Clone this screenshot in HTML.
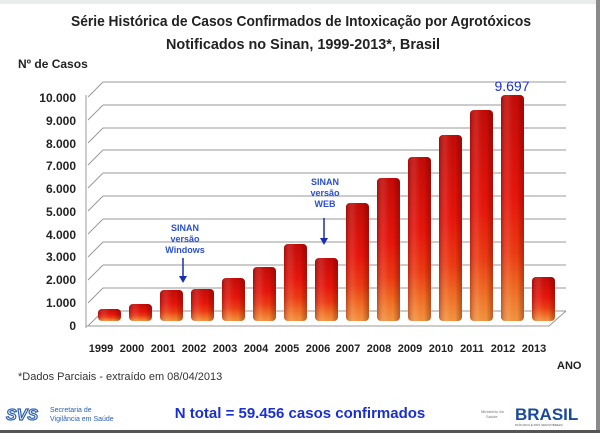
<!DOCTYPE html>
<html><head><meta charset="utf-8"><style>
body{margin:0;padding:0;background:#fff;}
svg{display:block;font-family:"Liberation Sans",sans-serif;}
</style></head><body>
<svg width="600" height="433" viewBox="0 0 600 433" xmlns="http://www.w3.org/2000/svg">
<defs>
<linearGradient id="v" x1="0" y1="0" x2="0" y2="1">
<stop offset="0" stop-color="#c40a06"/>
<stop offset="0.45" stop-color="#e8140a"/>
<stop offset="0.7" stop-color="#ee3a12"/>
<stop offset="0.85" stop-color="#f26a22"/>
<stop offset="1" stop-color="#f59540"/>
</linearGradient>
<linearGradient id="h" x1="0" y1="0" x2="1" y2="0">
<stop offset="0" stop-color="#600" stop-opacity="0.35"/>
<stop offset="0.35" stop-color="#fff" stop-opacity="0.08"/>
<stop offset="0.7" stop-color="#000" stop-opacity="0"/>
<stop offset="1" stop-color="#500" stop-opacity="0.35"/>
</linearGradient>
</defs>
<rect x="0" y="0" width="600" height="433" fill="#fff"/>
<rect x="0" y="0" width="600" height="4" fill="#e8ecec"/>
<rect x="596" y="0" width="4" height="433" fill="#8a8a8a"/>
<rect x="0" y="430" width="600" height="3" fill="#555"/>
<text x="301" y="26" font-size="15" font-weight="bold" text-anchor="middle" fill="#222" textLength="460" lengthAdjust="spacingAndGlyphs">Série Histórica de Casos Confirmados de Intoxicação por Agrotóxicos</text>
<text x="303" y="49" font-size="15" font-weight="bold" text-anchor="middle" fill="#222" textLength="274" lengthAdjust="spacingAndGlyphs">Notificados no Sinan, 1999-2013*, Brasil</text>
<text x="18" y="68" font-size="12" font-weight="bold" fill="#222">Nº de Casos</text>
<g stroke="#999" stroke-width="1" fill="none">
<line x1="103" y1="82" x2="566" y2="82"/><line x1="88" y1="97" x2="103" y2="82"/>
<line x1="103" y1="105" x2="566" y2="105"/><line x1="88" y1="120" x2="103" y2="105"/>
<line x1="103" y1="128" x2="566" y2="128"/><line x1="88" y1="143" x2="103" y2="128"/>
<line x1="103" y1="150" x2="566" y2="150"/><line x1="88" y1="165" x2="103" y2="150"/>
<line x1="103" y1="173" x2="566" y2="173"/><line x1="88" y1="188" x2="103" y2="173"/>
<line x1="103" y1="196" x2="566" y2="196"/><line x1="88" y1="211" x2="103" y2="196"/>
<line x1="103" y1="219" x2="566" y2="219"/><line x1="88" y1="234" x2="103" y2="219"/>
<line x1="103" y1="242" x2="566" y2="242"/><line x1="88" y1="257" x2="103" y2="242"/>
<line x1="103" y1="265" x2="566" y2="265"/><line x1="88" y1="280" x2="103" y2="265"/>
<line x1="103" y1="288" x2="566" y2="288"/><line x1="88" y1="303" x2="103" y2="288"/>
<line x1="103" y1="311" x2="566" y2="311"/><line x1="88" y1="326" x2="103" y2="311"/>
<line x1="86" y1="326" x2="549" y2="326"/><line x1="549" y1="326" x2="566" y2="311"/>
<line x1="86" y1="95" x2="86" y2="328"/>
</g>
<g font-size="12" font-weight="bold" fill="#222" text-anchor="end">
<text x="76" y="102">10.000</text><text x="76" y="125">9.000</text><text x="76" y="148">8.000</text>
<text x="76" y="170">7.000</text><text x="76" y="193">6.000</text><text x="76" y="216">5.000</text>
<text x="76" y="239">4.000</text><text x="76" y="261">3.000</text><text x="76" y="284">2.000</text>
<text x="76" y="307">1.000</text><text x="76" y="330">0</text>
</g>
<g>
<rect x="98" y="309" width="23" height="12" rx="4" fill="url(#v)"/>
<rect x="129" y="304" width="23" height="17" rx="4" fill="url(#v)"/>
<rect x="160" y="290" width="23" height="31" rx="4" fill="url(#v)"/>
<rect x="191" y="289" width="23" height="32" rx="4" fill="url(#v)"/>
<rect x="222" y="278" width="23" height="43" rx="4" fill="url(#v)"/>
<rect x="253" y="267" width="23" height="54" rx="4" fill="url(#v)"/>
<rect x="284" y="244" width="23" height="77" rx="4" fill="url(#v)"/>
<rect x="315" y="258" width="23" height="63" rx="4" fill="url(#v)"/>
<rect x="346" y="203" width="23" height="118" rx="4" fill="url(#v)"/>
<rect x="377" y="178" width="23" height="143" rx="4" fill="url(#v)"/>
<rect x="408" y="157" width="23" height="164" rx="4" fill="url(#v)"/>
<rect x="439" y="135" width="23" height="186" rx="4" fill="url(#v)"/>
<rect x="470" y="110" width="23" height="211" rx="4" fill="url(#v)"/>
<rect x="501" y="95" width="23" height="226" rx="4" fill="url(#v)"/>
<rect x="532" y="277" width="23" height="44" rx="4" fill="url(#v)"/>
</g>
<g fill="url(#h)">
<rect x="98" y="309" width="23" height="12" rx="4"/><rect x="129" y="304" width="23" height="17" rx="4"/>
<rect x="160" y="290" width="23" height="31" rx="4"/><rect x="191" y="289" width="23" height="32" rx="4"/>
<rect x="222" y="278" width="23" height="43" rx="4"/><rect x="253" y="267" width="23" height="54" rx="4"/>
<rect x="284" y="244" width="23" height="77" rx="4"/><rect x="315" y="258" width="23" height="63" rx="4"/>
<rect x="346" y="203" width="23" height="118" rx="4"/><rect x="377" y="178" width="23" height="143" rx="4"/>
<rect x="408" y="157" width="23" height="164" rx="4"/><rect x="439" y="135" width="23" height="186" rx="4"/>
<rect x="470" y="110" width="23" height="211" rx="4"/><rect x="501" y="95" width="23" height="226" rx="4"/>
<rect x="532" y="277" width="23" height="44" rx="4"/>
</g>
<g font-size="11" font-weight="bold" fill="#222" text-anchor="middle">
<text x="101" y="352">1999</text><text x="132" y="352">2000</text><text x="163" y="352">2001</text>
<text x="194" y="352">2002</text><text x="225" y="352">2003</text><text x="256" y="352">2004</text>
<text x="287" y="352">2005</text><text x="318" y="352">2006</text><text x="348" y="352">2007</text>
<text x="379" y="352">2008</text><text x="410" y="352">2009</text><text x="441" y="352">2010</text>
<text x="472" y="352">2011</text><text x="503" y="352">2012</text><text x="534" y="352">2013</text>
</g>
<text x="557" y="369" font-size="11" font-weight="bold" fill="#222">ANO</text>
<text x="18" y="380" font-size="11" fill="#333">*Dados Parciais -  extraído em 08/04/2013</text>
<text x="512" y="91" font-size="14" fill="#1a2fd0" text-anchor="middle">9.697</text>
<g font-size="9" font-weight="bold" fill="#2b4fd0" text-anchor="middle">
<text x="185" y="231">SINAN</text><text x="185" y="242">versão</text><text x="185" y="253">Windows</text>
<text x="325" y="185">SINAN</text><text x="325" y="196">versão</text><text x="325" y="207">WEB</text>
</g>
<g stroke="#1a2fb0" stroke-width="1.5" fill="#1a2fb0">
<line x1="183" y1="258" x2="183" y2="278"/><polygon points="179,276 187,276 183,283" stroke="none"/>
<line x1="324" y1="218" x2="324" y2="240"/><polygon points="320,238 328,238 324,245" stroke="none"/>
</g>
<text x="300" y="418" font-size="15" font-weight="bold" fill="#1a2fd0" text-anchor="middle">N total = 59.456 casos confirmados</text>
<text x="6" y="420" font-size="16" font-weight="bold" font-style="italic" fill="#fff" stroke="#2b5fb0" stroke-width="1.2">SVS</text>
<text x="50" y="412" font-size="7" fill="#2b5fb0">Secretaria de</text>
<text x="50" y="421" font-size="7" fill="#2b5fb0">Vigilância em Saúde</text>
<text x="481" y="413" font-size="4" fill="#777">Ministério da</text>
<text x="486" y="418" font-size="4" fill="#777">Saúde</text>
<text x="515" y="420" font-size="17" font-weight="bold" fill="#1a4a9c">BRASIL</text>
<text x="515" y="426" font-size="3" fill="#555">PAÍS RICO É PAÍS SEM POBREZA</text>
</svg>
</body></html>
